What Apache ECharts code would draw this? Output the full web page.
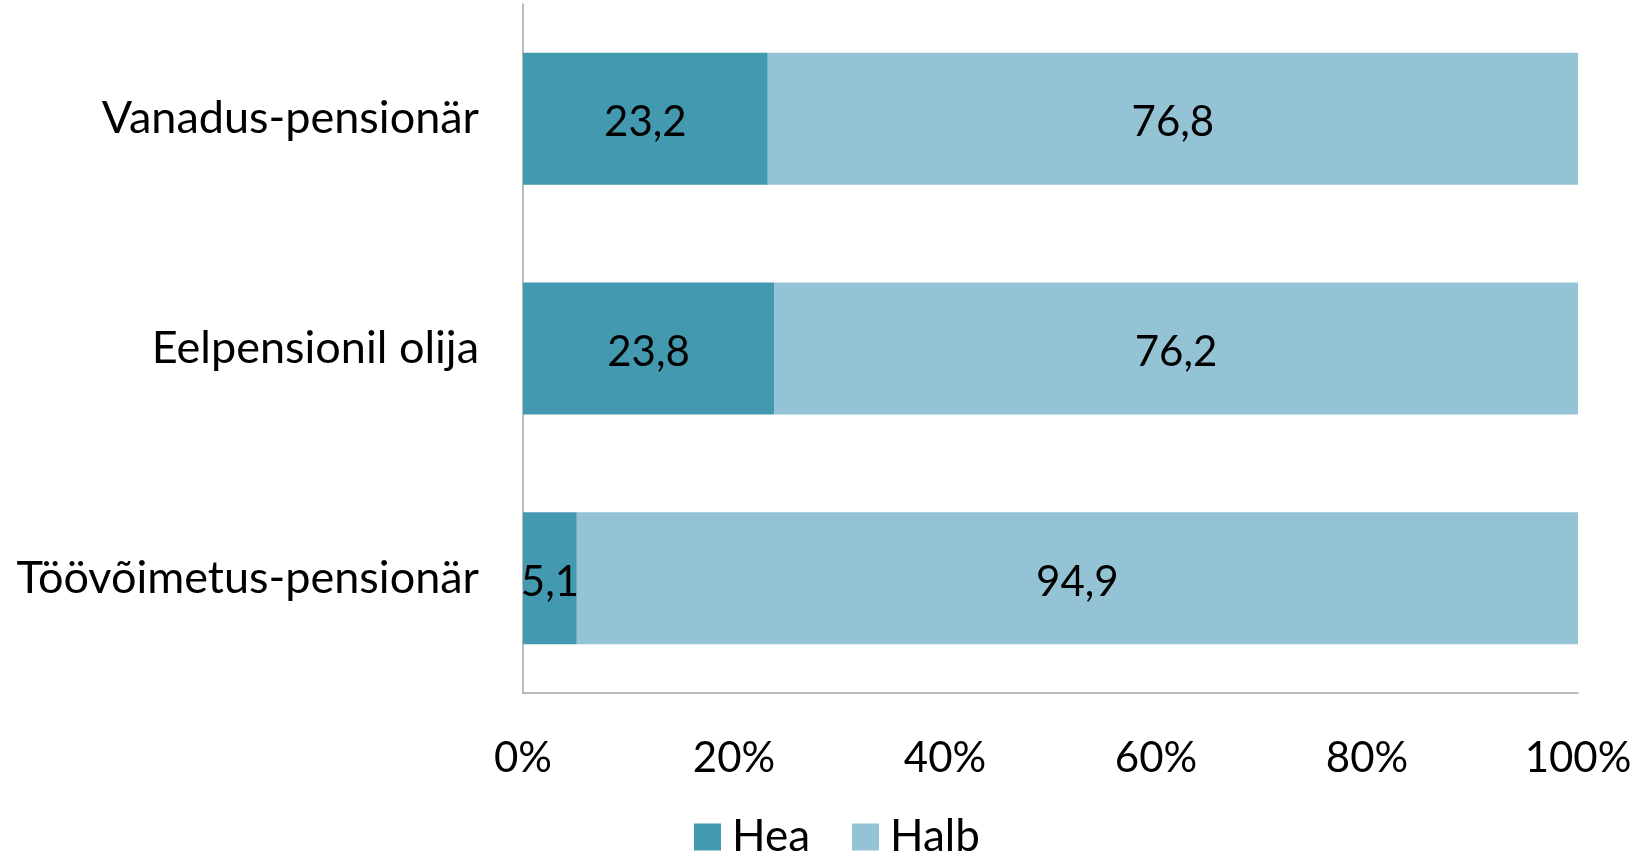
<!DOCTYPE html>
<html><head><meta charset="utf-8">
<script src="https://cdn.jsdelivr.net/npm/echarts@6/dist/echarts.min.js"></script>
<style>html,body{margin:0;padding:0;background:#fff}#c{width:1646px;height:856px}</style>
</head><body><div id="c"></div>
<script>
const categories = ['Töövõimetus-pensionär', 'Eelpensionil olija', 'Vanadus-pensionär'];
const heaValues = [5.1, 23.8, 23.2];
const halbValues = [94.9, 76.2, 76.8];
const seriesNames = ['Hea', 'Halb'];

const FONT = 'Lato, "Open Sans", sans-serif';
const FS = 42;
const fmt = p => String(p.value).replace('.', ',');
const chart = echarts.init(document.getElementById('c'));
chart.setOption({
  animation: false,
  textStyle: { fontFamily: FONT },
  grid: { left: 523, right: 68, top: 4, bottom: 163, containLabel: false },
  legend: {
    data: seriesNames, left: 694, top: 815, itemWidth: 27, itemHeight: 27, itemGap: 42,
    icon: 'rect', padding: 0,
    textStyle: { fontSize: 44, lineHeight: 44, color: '#000', fontFamily: FONT, padding: [0, 0, 0, 6] }
  },
  xAxis: {
    type: 'value', min: 0, max: 100, interval: 20,
    axisLine: { show: true, lineStyle: { color: '#A6A6A6', width: 1.5 } },
    axisTick: { show: false }, splitLine: { show: false },
    axisLabel: { formatter: '{value}%', fontSize: FS, color: '#000', margin: 44, fontFamily: FONT }
  },
  yAxis: {
    type: 'category', data: categories,
    axisLine: { show: true, lineStyle: { color: '#A6A6A6', width: 1.5 } },
    axisTick: { show: false },
    axisLabel: { fontSize: 45, color: '#000', margin: 44, fontFamily: FONT }
  },
  series: [
    { name: seriesNames[0], type: 'bar', stack: 's', data: heaValues, barWidth: 132,
      itemStyle: { color: '#4399B0' },
      label: { show: true, position: 'inside', formatter: fmt, fontSize: FS, color: '#000', fontFamily: FONT, offset: [0, 4] } },
    { name: seriesNames[1], type: 'bar', stack: 's', data: halbValues, barWidth: 132,
      itemStyle: { color: '#93C3D4' },
      label: { show: true, position: 'inside', formatter: fmt, fontSize: FS, color: '#000', fontFamily: FONT, offset: [0, 4] } }
  ]
});
</script></body></html>
